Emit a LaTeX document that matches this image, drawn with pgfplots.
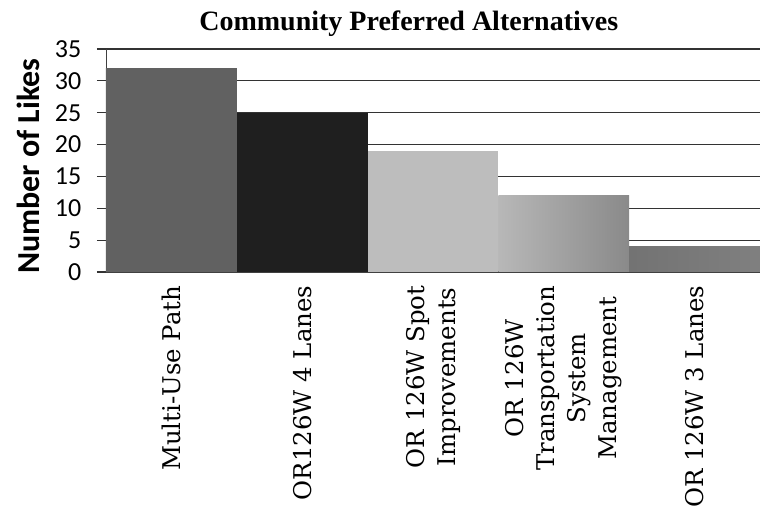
\documentclass[border=0pt]{standalone}
\usepackage{fontspec}
\setmainfont{Liberation Serif}
\newfontfamily\carlito{Carlito}
\newfontfamily\dejaserif{DejaVu Serif}
\usepackage{pgfplots}
\pgfplotsset{compat=1.18}

\begin{document}
\begin{tikzpicture}
\begin{axis}[
  scale only axis,
  width=490.5pt, height=167.25pt,
  xmin=-0.5, xmax=4.5, ymin=0, ymax=35,
  ytick={0,5,...,35},
  xtick={0,1,2,3,4},
  xticklabels={Multi-Use Path, OR126W 4 Lanes, {OR 126W Spot\\Improvements},
    {OR 126W\\Transportation\\System\\Management}, OR 126W 3 Lanes},
  ymajorgrids,
  grid style={draw=black!80, line width=0.8pt},
  axis x line*=bottom, axis y line*=left,
  axis line style={draw=black!75, line width=0.7pt, -},
  tick align=outside, major tick length=6.75pt,
  ytick style={draw=black!80, line width=0.8pt},
  xtick style={draw=none},
  /pgf/number format/assume math mode=true,
  yticklabel style={font=\carlito\fontsize{19.5}{19.5}\selectfont, anchor=east,
    xshift=-8.25pt},
  xticklabel style={font=\dejaserif\fontsize{18.3}{23.25}\selectfont,
    rotate=90, anchor=east, align=center},
  ylabel={Number of Likes},
  ylabel style={font=\carlito\bfseries\fontsize{24}{28}\selectfont,
    at={(axis description cs:-0.119,0.475)}, anchor=center},
  title={Community Preferred Alternatives},
  title style={font=\bfseries\fontsize{21}{25}\selectfont,
    at={(axis description cs:0.463,1)}, anchor=base, yshift=8.25pt},
]
% one bar per alternative, each filling its whole category slot
\addplot[ybar, bar width=1, bar shift=0pt, draw=none,
  left color=black!62, middle color=black!80, right color=black!62]
  coordinates {(0,32)};
\addplot[ybar, bar width=1, bar shift=0pt, draw=none, fill=black!88]
  coordinates {(1,25)};
\addplot[ybar, bar width=1, bar shift=0pt, draw=none, fill=black!26]
  coordinates {(2,19)};
\addplot[ybar, bar width=1, bar shift=0pt, draw=none,
  left color=black!28, right color=black!46]
  coordinates {(3,12)};
\addplot[ybar, bar width=1, bar shift=0pt, draw=none,
  left color=black!55, middle color=black!68, right color=black!50]
  coordinates {(4,4)};
\end{axis}
\pgfresetboundingbox
\path[use as bounding box] (-79.5pt,-177.75pt) rectangle (490.5pt,204pt);
\end{tikzpicture}
\end{document}
